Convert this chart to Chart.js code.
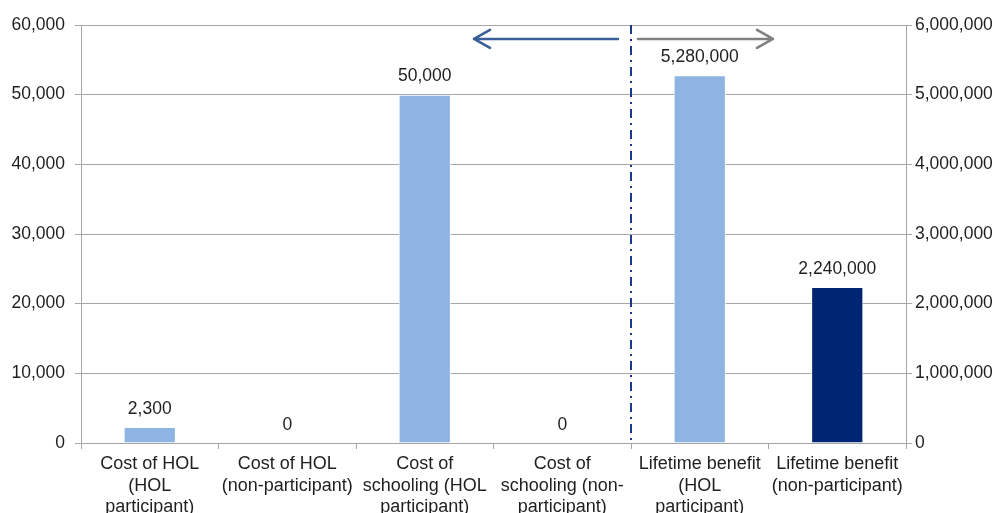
<!DOCTYPE html>
<html>
<head>
<meta charset="utf-8">
<title>HOL costs and lifetime benefits</title>
<script src="https://cdn.jsdelivr.net/npm/chart.js@4/dist/chart.umd.min.js"></script>
<style>
  html, body { margin: 0; padding: 0; background: #ffffff; }
  #wrap { width: 1004px; height: 513px; position: relative; }
</style>
</head>
<body>
<div id="wrap"><canvas id="chart" width="1004" height="513"></canvas></div>
<script>
// Categories (multi-line axis labels)
const categories = [
  ["Cost of HOL", "(HOL", "participant)"],
  ["Cost of HOL", "(non-participant)"],
  ["Cost of", "schooling (HOL", "participant)"],
  ["Cost of", "schooling (non-", "participant)"],
  ["Lifetime benefit", "(HOL", "participant)"],
  ["Lifetime benefit", "(non-participant)"]
];

// Costs, read on the left axis
const costValues = [2300, 0, 50000, 0, null, null];
// Lifetime benefits, read on the right axis
const benefitValues = [null, null, null, null, 5280000, 2240000];

// Axis ranges and tick steps
const leftAxisMax = 60000;
const leftAxisStep = 10000;
const rightAxisMax = 6000000;
const rightAxisStep = 1000000;

// Level (right-axis units) at which the direction arrows sit
const arrowLevel = 5800000;

const lightBlue = "#8DB4E2";
const navy = "#002673";
const textColor = "#1F1F1F";
const gridColor = "#A6A6A6";
const fontFamily = "'Liberation Sans', Arial, sans-serif";

const fmt = v => v.toLocaleString("en-US");

// Value labels above each bar
const valueLabels = {
  id: "valueLabels",
  afterDatasetsDraw(chart) {
    const ctx = chart.ctx;
    ctx.save();
    ctx.font = "17.5px " + fontFamily;
    ctx.fillStyle = textColor;
    ctx.textAlign = "center";
    ctx.textBaseline = "middle";
    chart.data.datasets.forEach((ds, di) => {
      const meta = chart.getDatasetMeta(di);
      meta.data.forEach((bar, i) => {
        const v = ds.data[i];
        if (v === null || v === undefined) return;
        ctx.fillText(fmt(v), bar.x, bar.y - 18);
      });
    });
    ctx.restore();
  }
};

// Dash-dot divider between cost and benefit categories, plus the two arrows
const divider = {
  id: "divider",
  afterDatasetsDraw(chart) {
    const ctx = chart.ctx;
    const x = chart.scales.x;
    const area = chart.chartArea;
    const bx = (x.getPixelForValue(3) + x.getPixelForValue(4)) / 2;
    ctx.save();
    ctx.strokeStyle = "#1A3A8F";
    ctx.lineWidth = 2;
    ctx.setLineDash([9, 5, 2, 5]);
    ctx.beginPath();
    ctx.moveTo(bx, area.top);
    ctx.lineTo(bx, area.bottom);
    ctx.stroke();
    ctx.setLineDash([]);

    const y = chart.scales.yRight.getPixelForValue(arrowLevel);
    const drawArrow = (x0, x1, color) => {
      const dir = Math.sign(x1 - x0);
      ctx.strokeStyle = color;
      ctx.lineWidth = 2.5;
      ctx.lineCap = "round";
      ctx.lineJoin = "round";
      ctx.beginPath();
      ctx.moveTo(x0, y);
      ctx.lineTo(x1, y);
      ctx.moveTo(x1 - dir * 16, y - 9);
      ctx.lineTo(x1, y);
      ctx.lineTo(x1 - dir * 16, y + 9);
      ctx.stroke();
    };
    drawArrow(bx - 13, bx - 157, "#3A5E98");
    drawArrow(bx + 7, bx + 142, "#808080");
    ctx.restore();
  }
};

new Chart(document.getElementById("chart"), {
  type: "bar",
  data: {
    labels: categories,
    datasets: [
      {
        label: "Cost",
        data: costValues,
        yAxisID: "yLeft",
        backgroundColor: lightBlue,
        borderColor: "#ffffff",
        borderWidth: 1,
        grouped: false,
        barPercentage: 0.38,
        categoryPercentage: 1
      },
      {
        label: "Lifetime benefit",
        data: benefitValues,
        yAxisID: "yRight",
        backgroundColor: [lightBlue, lightBlue, lightBlue, lightBlue, lightBlue, navy],
        borderColor: "#ffffff",
        borderWidth: 1,
        grouped: false,
        barPercentage: 0.38,
        categoryPercentage: 1
      }
    ]
  },
  options: {
    responsive: false,
    animation: false,
    devicePixelRatio: 1,
    layout: { padding: { top: 25, left: 0, right: 0, bottom: 0 } },
    plugins: {
      legend: { display: false },
      tooltip: { enabled: false }
    },
    scales: {
      x: {
        offset: true,
        grid: {
          display: true,
          offset: true,
          drawOnChartArea: false,
          drawTicks: true,
          tickLength: 6,
          color: gridColor
        },
        border: { display: true, color: gridColor, width: 1 },
        ticks: {
          color: textColor,
          font: { family: fontFamily, size: 18, lineHeight: 1.17 },
          maxRotation: 0,
          minRotation: 0,
          autoSkip: false,
          padding: 5
        },
        afterFit(scale) { scale.height = 70; }
      },
      yLeft: {
        position: "left",
        min: 0,
        max: leftAxisMax,
        grid: {
          color: gridColor,
          lineWidth: 1,
          drawTicks: true,
          tickLength: 6
        },
        border: { display: true, color: gridColor, width: 1 },
        ticks: {
          stepSize: leftAxisStep,
          color: textColor,
          font: { family: fontFamily, size: 17.5 },
          padding: 10,
          callback: v => fmt(v)
        },
        afterFit(scale) { scale.width = 81; }
      },
      yRight: {
        position: "right",
        min: 0,
        max: rightAxisMax,
        grid: {
          drawOnChartArea: false,
          color: gridColor,
          drawTicks: true,
          tickLength: 6
        },
        border: { display: true, color: gridColor, width: 1 },
        ticks: {
          stepSize: rightAxisStep,
          color: textColor,
          font: { family: fontFamily, size: 17.5 },
          padding: 3,
          callback: v => fmt(v)
        },
        afterFit(scale) { scale.width = 98; }
      }
    }
  },
  plugins: [valueLabels, divider]
});
</script>
</body>
</html>
